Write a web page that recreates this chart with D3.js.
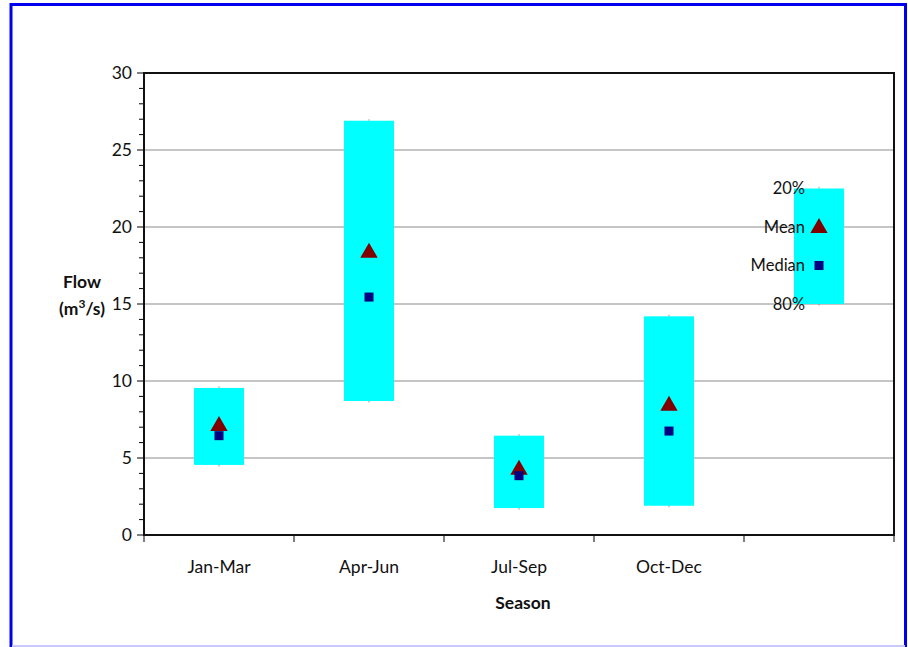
<!DOCTYPE html>
<html>
<head>
<meta charset="utf-8">
<script src="https://cdn.jsdelivr.net/npm/d3@7"></script>
<style>
  html, body { margin: 0; padding: 0; background: #fff; }
  svg { display: block; font-family: Lato, "Open Sans", sans-serif; }
</style>
</head>
<body>
<svg id="chart" width="908" height="647"></svg>
<script>
// Seasonal flow statistics (m3/s)
const seasons   = ["Jan-Mar", "Apr-Jun", "Jul-Sep", "Oct-Dec"];
const pct20     = [9.55, 26.9, 6.45, 14.2];   // 20% exceedance (box top)
const pct80     = [4.55, 8.7, 1.75, 1.9];     // 80% exceedance (box bottom)
const meanFlow  = [7.15, 18.4, 4.3, 8.45];
const medianFlow= [6.45, 15.45, 3.85, 6.75];

// Key drawn as a fifth, unlabelled column
const keyValues = { top: 22.5, bottom: 15, mean: 20, median: 17.5 };
const keyLabels = ["20%", "Mean", "Median", "80%"];

const yTicks = [0, 5, 10, 15, 20, 25, 30];

const svg = d3.select("#chart");
const plot = { left: 144, right: 894, top: 73, bottom: 535 };

// Outer frame
svg.append("rect").attr("x", 11).attr("y", 4.5).attr("width", 894.5).attr("height", 643)
  .attr("fill", "none").attr("stroke", "#0000ee").attr("stroke-width", 3);
svg.append("line").attr("x1", 12).attr("x2", 905).attr("y1", 646).attr("y2", 646)
  .attr("stroke", "#c8c8ff").attr("stroke-width", 2);

const cats = seasons.concat([""]);
const x = d3.scaleBand().domain(d3.range(cats.length)).range([plot.left, plot.right]);
const y = d3.scaleLinear().domain([0, 30]).range([plot.bottom, plot.top]);
const boxW = 50;

// Gridlines
svg.append("g").selectAll("line").data(yTicks.filter(v => v > 0 && v < 30)).join("line")
  .attr("x1", plot.left).attr("x2", plot.right)
  .attr("y1", d => y(d)).attr("y2", d => y(d))
  .attr("stroke", "#8c8c8c").attr("stroke-width", 1.2);

// Minor ticks on the value axis
svg.append("g").selectAll("line").data(d3.range(0, 31)).join("line")
  .attr("x1", d => d % 5 === 0 ? plot.left - 7 : plot.left - 5).attr("x2", plot.left)
  .attr("y1", d => y(d)).attr("y2", d => y(d))
  .attr("stroke", "#000").attr("stroke-width", 1);

// Value axis labels
svg.append("g").selectAll("text").data(yTicks).join("text")
  .attr("x", plot.left - 12).attr("y", d => y(d)).attr("dy", "0.35em")
  .attr("text-anchor", "end").attr("font-size", 17.5).attr("fill", "#111")
  .text(d => d);

// Category separators below the axis
svg.append("g").selectAll("line").data(d3.range(cats.length + 1)).join("line")
  .attr("x1", i => plot.left + i * x.bandwidth()).attr("x2", i => plot.left + i * x.bandwidth())
  .attr("y1", plot.bottom).attr("y2", plot.bottom + 7)
  .attr("stroke", "#000").attr("stroke-width", 1);

// Category labels
svg.append("g").selectAll("text").data(seasons).join("text")
  .attr("x", (d, i) => x(i) + x.bandwidth() / 2).attr("y", 573)
  .attr("text-anchor", "middle").attr("font-size", 17.5).attr("fill", "#111")
  .text(d => d);

// Boxes spanning 80%–20% exceedance
const boxes = seasons.map((s, i) => ({ i, top: pct20[i], bottom: pct80[i], mean: meanFlow[i], median: medianFlow[i] }));
boxes.push({ i: 4, top: keyValues.top, bottom: keyValues.bottom, mean: keyValues.mean, median: keyValues.median });

const cx = d => x(d.i) + x.bandwidth() / 2;

svg.append("g").selectAll("rect").data(boxes).join("rect")
  .attr("x", d => cx(d) - boxW / 2).attr("width", boxW)
  .attr("y", d => y(d.top)).attr("height", d => y(d.bottom) - y(d.top))
  .attr("fill", "#00ffff");

// Small whisker marks at box ends
svg.append("g").selectAll("line").data(boxes.flatMap(d => [[d, d.top, -1], [d, d.bottom, 1]])).join("line")
  .attr("x1", d => cx(d[0])).attr("x2", d => cx(d[0]))
  .attr("y1", d => y(d[1])).attr("y2", d => y(d[1]) + d[2] * 1.5)
  .attr("stroke", "#999").attr("stroke-width", 1);

// Mean markers (triangles)
const tri = d3.symbol().type(d3.symbolTriangle).size(130);
svg.append("g").selectAll("path").data(boxes).join("path")
  .attr("d", tri)
  .attr("transform", d => `translate(${cx(d)},${y(d.mean) + 1})`)
  .attr("fill", "#800000");

// Median markers (squares)
svg.append("g").selectAll("rect").data(boxes).join("rect")
  .attr("x", d => cx(d) - 4.5).attr("y", d => y(d.median) - 4.5)
  .attr("width", 9).attr("height", 9)
  .attr("fill", "#000080");

// Key labels
const keyVals = [keyValues.top, keyValues.mean, keyValues.median, keyValues.bottom];
svg.append("g").selectAll("text").data(keyLabels).join("text")
  .attr("x", 805).attr("y", (d, i) => y(keyVals[i])).attr("dy", "0.35em")
  .attr("text-anchor", "end").attr("font-size", 16.5).attr("fill", "#111")
  .text(d => d);

// Plot frame
svg.append("rect").attr("x", plot.left).attr("y", plot.top)
  .attr("width", plot.right - plot.left).attr("height", plot.bottom - plot.top)
  .attr("fill", "none").attr("stroke", "#111").attr("stroke-width", 2);

// Axis titles
svg.append("text").attr("x", 82).attr("y", 288).attr("text-anchor", "middle")
  .attr("font-size", 17.5).attr("font-weight", "bold").attr("fill", "#111").text("Flow");
const unit = svg.append("text").attr("x", 82).attr("y", 315).attr("text-anchor", "middle")
  .attr("font-size", 17.5).attr("font-weight", "bold").attr("fill", "#111");
unit.append("tspan").text("(m");
unit.append("tspan").attr("dy", -7).attr("font-size", 12).text("3");
unit.append("tspan").attr("dy", 7).text("/s)");

svg.append("text").attr("x", 523).attr("y", 609).attr("text-anchor", "middle")
  .attr("font-size", 17.5).attr("font-weight", "bold").attr("fill", "#111").text("Season");
</script>
</body>
</html>
